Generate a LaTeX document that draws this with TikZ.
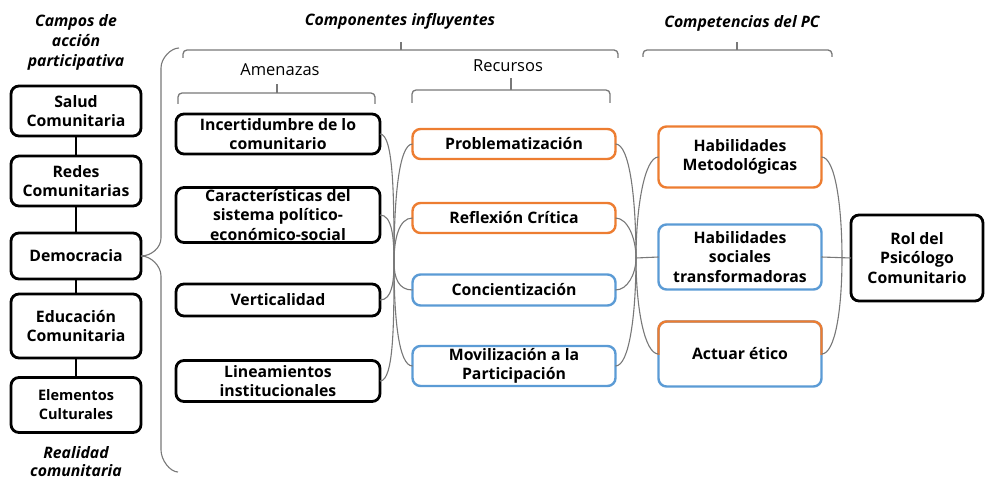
\documentclass[tikz,border=0pt]{standalone}
\usepackage{fontspec}
\setmainfont{Open Sans}
\usepackage{xcolor}
\usetikzlibrary{shapes, arrows}

\definecolor{naranja}{RGB}{237,125,49}
\definecolor{azul}{RGB}{91,155,213}
\definecolor{gris}{RGB}{120,120,120}

\begin{document}
\begin{tikzpicture}[x=1pt, y=-1pt, node distance=75pt]

\tikzstyle{caja} = [rectangle, rounded corners=8pt, text centered, align=center, outer sep=0pt, inner sep=1pt, fill=white, font=\fontsize{15.8}{19.5}\selectfont\bfseries]
\tikzstyle{negra} = [caja, draw=black, line width=2.8pt]
\tikzstyle{naranjabox} = [caja, draw=naranja, line width=2.4pt]
\tikzstyle{azulbox} = [caja, draw=azul, line width=2.4pt]
\tikzstyle{titulo} = [align=center, font=\fontsize{15.8}{20}\selectfont\bfseries\itshape]
\tikzstyle{subtitulo} = [align=center, font=\fontsize{16.5}{20}\selectfont]
\tikzstyle{rama} = [draw=gris, line width=1.1pt]
\tikzstyle{llave} = [draw=gris, line width=1.3pt, rounded corners=4pt]

\useasboundingbox (0,0) rectangle (986,484);

% campos de accion participativa
\node (campos) [titulo] at (76,42) {Campos de\\acción\\participativa};
\node (salud) [negra, minimum width=130pt, minimum height=50pt] at (76,111) {Salud\\Comunitaria};
\node (redes) [negra, minimum width=130pt, minimum height=50pt, node distance=70pt, below of=salud] {Redes\\Comunitarias};
\node (demo) [negra, minimum width=130pt, minimum height=46pt, node distance=75pt, below of=redes] {Democracia};
\node (educ) [negra, minimum width=130pt, minimum height=64pt, node distance=70pt, below of=demo] {Educación\\Comunitaria};
\node (elem) [negra, minimum width=130pt, minimum height=55pt, node distance=79pt, below of=educ, font=\fontsize{14.5}{19}\selectfont\bfseries] {Elementos\\Culturales};
\node (realidad) [titulo, font=\fontsize{15.8}{18}\selectfont\bfseries\itshape] at (76,462) {Realidad\\comunitaria};

\draw [line width=2.8pt] (salud) -- (redes);
\draw [line width=2.8pt] (redes) -- (demo);
\draw [line width=2.8pt] (demo) -- (educ);
\draw [line width=2.8pt] (educ) -- (elem);

% componentes influyentes
\node (componentes) [titulo] at (400,21) {Componentes influyentes};
\node (amenazas) [subtitulo] at (280,70) {Amenazas};
\node (recursos) [subtitulo] at (508,66) {Recursos};

\node (incert) [negra, minimum width=204pt, minimum height=40pt] at (278,134) {Incertidumbre de lo\\comunitario};
\node (caract) [negra, minimum width=204pt, minimum height=55pt, node distance=81pt, below of=incert] {Características del\\sistema político-\\económico-social};
\node (vert) [negra, minimum width=204pt, minimum height=32pt, node distance=85pt, below of=caract] {Verticalidad};
\node (linea) [negra, minimum width=204pt, minimum height=41pt, node distance=81pt, below of=vert] {Lineamientos\\institucionales};

\node (probl) [naranjabox, minimum width=203pt, minimum height=30pt] at (514,144) {Problematización};
\node (refle) [naranjabox, minimum width=203pt, minimum height=30pt, node distance=74pt, below of=probl] {Reflexión Crítica};
\node (conci) [azulbox, minimum width=203pt, minimum height=31pt, node distance=72pt, below of=refle] {Concientización};
\node (movil) [azulbox, minimum width=203pt, minimum height=40pt, node distance=76pt, below of=conci] {Movilización a la\\Participación};

% competencias del PC
\node (compet) [titulo] at (742,23) {Competencias del PC};
\node (habmet) [naranjabox, minimum width=163pt, minimum height=61pt] at (740,157) {Habilidades\\Metodológicas};
\node (habsoc) [azulbox, minimum width=163pt, minimum height=65pt, node distance=100pt, below of=habmet] {Habilidades\\sociales\\transformadoras};
\node (actuar) [azulbox, minimum width=163pt, minimum height=65pt, node distance=97pt, below of=habsoc] {Actuar ético};
\begin{scope}
\clip ([xshift=-5pt]actuar.west) rectangle ([xshift=5pt, yshift=5pt]actuar.north east);
\draw [naranja, line width=2.4pt, rounded corners=8pt] (actuar.south west) rectangle (actuar.north east);
\end{scope}

\node (rol) [negra, minimum width=132pt, minimum height=86pt] at (917,258) {Rol del\\Psicólogo\\Comunitario};

% llaves
\coordinate (llsup) at (161,238);
\coordinate (lltop) at (161,68);
\coordinate (llfin) at (179,48);
\coordinate (llinf) at (161,276);
\coordinate (llbot) at (161,450);
\coordinate (llfinb) at (178,472);
\draw [rama] (demo.east) to[out=0, in=-90, out distance=10pt, in distance=10pt] (llsup) -- (lltop) to[out=90, in=180, out distance=10pt, in distance=8pt] (llfin);
\draw [rama] (demo.east) to[out=0, in=90, out distance=10pt, in distance=10pt] (llinf) -- (llbot) to[out=-90, in=180, out distance=10pt, in distance=8pt] (llfinb);

\draw [llave] (183,58) |- (618,50) -- (618,58);
\draw [llave] (401,50) -- (401,42);
\draw [llave] (178,104) |- (375,93) -- (375,104);
\draw [llave] (277,93) -- (277,84);
\draw [llave] (412,103) |- (610,90) -- (610,103);
\draw [llave] (511,90) -- (511,78);
\draw [llave] (643,57) |- (832,50) -- (832,57);
\draw [llave] (737,50) -- (737,42);

% ramas
\coordinate (j2) at (394,262);
\coordinate (j3) at (636,258);
\coordinate (j4) at (842,258);

\draw [rama] (incert.east) to[out=0, in=90, out distance=14pt, in distance=60pt] (j2);
\draw [rama] (caract.east) to[out=0, in=90, out distance=12pt, in distance=25pt] (j2);
\draw [rama] (vert.east) to[out=0, in=-90, out distance=12pt, in distance=20pt] (j2);
\draw [rama] (linea.east) to[out=0, in=-90, out distance=14pt, in distance=60pt] (j2);
\draw [rama] (j2) to[out=90, in=180, out distance=60pt, in distance=14pt] (probl.west);
\draw [rama] (j2) to[out=90, in=180, out distance=22pt, in distance=14pt] (refle.west);
\draw [rama] (j2) to[out=-90, in=180, out distance=16pt, in distance=14pt] (conci.west);
\draw [rama] (j2) to[out=-90, in=180, out distance=55pt, in distance=14pt] (movil.west);

\draw [rama] (probl.east) to[out=0, in=90, out distance=14pt, in distance=60pt] (j3);
\draw [rama] (refle.east) to[out=0, in=90, out distance=12pt, in distance=20pt] (j3);
\draw [rama] (conci.east) to[out=0, in=-90, out distance=12pt, in distance=16pt] (j3);
\draw [rama] (movil.east) to[out=0, in=-90, out distance=14pt, in distance=55pt] (j3);
\draw [rama] (j3) to[out=90, in=180, out distance=50pt, in distance=14pt] (habmet.west);
\draw [rama] (j3) -- (habsoc.west);
\draw [rama] (j3) to[out=-90, in=180, out distance=50pt, in distance=14pt] (actuar.west);

\draw [rama] (habmet.east) to[out=0, in=90, out distance=14pt, in distance=50pt] (j4);
\draw [rama] (actuar.east) to[out=0, in=-90, out distance=14pt, in distance=50pt] (j4);
\draw [rama] (habsoc.east) -- (rol.west);

\end{tikzpicture}
\end{document}
